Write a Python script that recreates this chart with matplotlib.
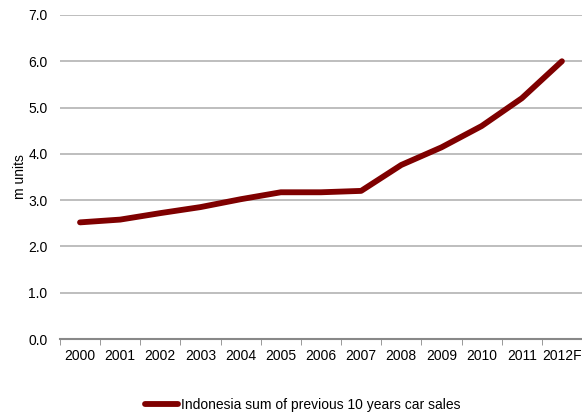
import matplotlib
matplotlib.use('Agg')
import matplotlib.pyplot as plt
from matplotlib.lines import Line2D

years = ['2000', '2001', '2002', '2003', '2004', '2005', '2006',
         '2007', '2008', '2009', '2010', '2011', '2012F']
sales = [2.52, 2.58, 2.72, 2.85, 3.02, 3.17, 3.17, 3.20, 3.76, 4.14, 4.60, 5.20, 6.00]

plt.rcParams['font.family'] = ['Liberation Sans', 'DejaVu Sans']

fig = plt.figure(figsize=(5.82, 4.15), dpi=100)
ax = fig.add_axes([0.103, 0.183, 0.897, 0.781])

x = list(range(len(years)))
line_color = '#7f0000'
ax.plot(x, sales, color=line_color, linewidth=4.2, solid_capstyle='round',
        solid_joinstyle='round', zorder=3)

ax.set_xlim(-0.5, len(years) - 0.5)
ax.set_ylim(0, 7)
ax.set_yticks([i for i in range(8)])
ax.set_yticklabels(['%.1f' % i for i in range(8)], fontsize=10)
ax.set_xticks(x)
ax.set_xticklabels(years, fontsize=10)
ax.tick_params(axis='x', length=0, pad=7)
ax.tick_params(axis='y', length=0, pad=9)

# ticks between categories
ax.set_xticks([i - 0.5 for i in range(len(years) + 1)], minor=True)
ax.tick_params(axis='x', which='minor', length=4, color='#888888')

ax.grid(axis='y', color='#b3b3b3', linewidth=1.2)
ax.set_axisbelow(True)
for s in ['top', 'right', 'left']:
    ax.spines[s].set_visible(False)
ax.spines['bottom'].set_color('#888888')
ax.spines['bottom'].set_linewidth(1.5)

ax.set_ylabel('m units', fontsize=10)
ax.yaxis.set_label_coords(-0.064, 0.5)

handle = Line2D([0], [0], color=line_color, linewidth=4.2, solid_capstyle='round')
fig.legend([handle], ['Indonesia sum of previous 10 years car sales'],
           loc='lower center', bbox_to_anchor=(0.52, -0.022), frameon=False,
           fontsize=10, handlelength=2.4, handletextpad=0.2)

fig.savefig('out.png', dpi=100)
